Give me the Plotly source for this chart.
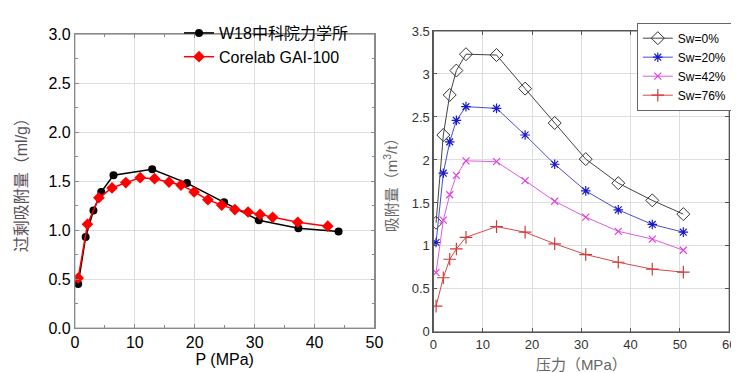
import plotly.graph_objects as go

# ---- Left chart data ----
p_w18 = [0.55, 1.8, 3.1, 4.4, 6.45, 12.9, 18.7, 24.9, 30.7, 37.3, 44.0]
ads_w18 = [0.45, 0.93, 1.20, 1.39, 1.56, 1.62, 1.48, 1.285, 1.10, 1.02, 0.985]
p_core = [0.55, 2.1, 4.0, 6.2, 8.5, 10.9, 13.3, 15.7, 17.7, 19.9, 22.2, 24.5, 26.7, 28.9, 30.9, 33.0, 37.2, 42.2]
ads_core = [0.51, 1.06, 1.33, 1.43, 1.485, 1.535, 1.525, 1.49, 1.46, 1.39, 1.31, 1.255, 1.21, 1.185, 1.16, 1.13, 1.08, 1.04]

# ---- Right chart data ----
p_sw = [0.53, 2.0, 3.3, 4.65, 6.6, 12.8, 18.6, 24.6, 30.9, 37.5, 44.4, 50.7]
sw0 = [1.27, 2.29, 2.756, 3.04, 3.23, 3.22, 2.83, 2.43, 2.01, 1.73, 1.53, 1.37]
sw20 = [1.04, 1.846, 2.21, 2.46, 2.62, 2.60, 2.29, 1.95, 1.64, 1.42, 1.25, 1.16]
sw42 = [0.69, 1.30, 1.595, 1.82, 1.99, 1.98, 1.76, 1.52, 1.335, 1.17, 1.08, 0.95]
sw76 = [0.30, 0.63, 0.845, 0.965, 1.10, 1.225, 1.16, 1.025, 0.90, 0.81, 0.73, 0.695]

sans = "Liberation Sans, Arial, sans-serif"
cjk = "Liberation Sans, Noto Sans CJK SC, sans-serif"

fig = go.Figure()

fig.add_trace(go.Scatter(x=p_w18, y=ads_w18, mode="lines+markers", name="W18中科院力学所",
                         line=dict(color="black", width=1.5),
                         marker=dict(symbol="circle", size=8, color="black"),
                         xaxis="x", yaxis="y", legend="legend"))
fig.add_trace(go.Scatter(x=p_core, y=ads_core, mode="lines+markers", name="Corelab GAI-100",
                         line=dict(color="#ff0000", width=1.5),
                         marker=dict(symbol="diamond", size=9, color="#ff0000"),
                         xaxis="x", yaxis="y", legend="legend"))

fig.add_trace(go.Scatter(x=p_sw, y=sw0, mode="lines+markers", name="Sw=0%",
                         line=dict(color="#444444", width=1),
                         marker=dict(symbol="diamond-open", size=10, color="#333333", line=dict(width=1)),
                         xaxis="x2", yaxis="y2", legend="legend2"))
fig.add_trace(go.Scatter(x=p_sw, y=sw20, mode="lines+markers", name="Sw=20%",
                         line=dict(color="#4b4bd6", width=1),
                         marker=dict(symbol="asterisk-open", size=8, color="#1a1acc", line=dict(width=1.2, color="#1a1acc")),
                         xaxis="x2", yaxis="y2", legend="legend2"))
fig.add_trace(go.Scatter(x=p_sw, y=sw42, mode="lines+markers", name="Sw=42%",
                         line=dict(color="#e05ce0", width=1),
                         marker=dict(symbol="x-thin-open", size=7, color="#e040e0", line=dict(width=1.2, color="#e040e0")),
                         xaxis="x2", yaxis="y2", legend="legend2"))
fig.add_trace(go.Scatter(x=p_sw, y=sw76, mode="lines+markers", name="Sw=76%",
                         line=dict(color="#d24a4a", width=1),
                         marker=dict(symbol="cross-thin-open", size=9, color="#d03a3a", line=dict(width=1.2, color="#d03a3a")),
                         xaxis="x2", yaxis="y2", legend="legend2"))

grid = "#dedede"
frame = "#8a8a8a"
frame2 = "#555555"

fig.update_layout(
    width=739, height=373,
    margin=dict(l=0, r=0, t=0, b=0),
    paper_bgcolor="white", plot_bgcolor="white",
    xaxis=dict(domain=[64/739, 369/739], range=[0, 50], dtick=10, tickformat="d",
               showgrid=True, gridcolor=grid, zeroline=False,
               showline=True, linecolor=frame, linewidth=1, mirror="allticks", ticks="inside", ticklen=4, tickcolor=frame,
               minor=dict(dtick=5, ticks="inside", ticklen=3, tickcolor=frame, showgrid=False),
               tickfont=dict(family=sans, size=16, color="black"),
               title=dict(text="P (MPa)", font=dict(family=sans, size=16, color="black"), standoff=0),
               anchor="y"),
    yaxis=dict(domain=[1-327/373, 1-19/373], range=[0, 3], dtick=0.5, tickformat=".1f",
               showgrid=True, gridcolor=grid, zeroline=False,
               showline=True, linecolor=frame, linewidth=1, mirror="allticks", ticks="inside", ticklen=4, tickcolor=frame,
               minor=dict(dtick=0.25, ticks="inside", ticklen=3, tickcolor=frame, showgrid=False),
               tickfont=dict(family=sans, size=16, color="black"),
               title=dict(text="过剩吸附量（ml/g）", font=dict(family=cjk, size=16, color="#5a4f5a"), standoff=16),
               anchor="x"),
    xaxis2=dict(domain=[429/739, 730/739], range=[0, 60], dtick=10,
                showgrid=True, gridcolor=grid, zeroline=False,
                showline=True, linecolor=frame2, linewidth=1, mirror="allticks", ticks="inside", ticklen=4, tickcolor=frame2,
                tickfont=dict(family=sans, size=13, color="#333333"),
                title=dict(text="压力（MPa）", font=dict(family=cjk, size=15, color="#666666"), standoff=8),
                anchor="y2"),
    yaxis2=dict(domain=[1-331/373, 1-15.7/373], range=[0, 3.5], dtick=0.5,
                showgrid=True, gridcolor=grid, zeroline=False,
                showline=True, linecolor=frame2, linewidth=1, mirror="allticks", ticks="inside", ticklen=4, tickcolor=frame2,
                tickfont=dict(family=sans, size=13, color="#333333"),
                title=dict(text="吸附量（m<sup>3</sup>/t）", font=dict(family=cjk, size=15, color="#666666"), standoff=10),
                anchor="x2"),
    legend=dict(x=170/739, y=1.0, xanchor="left", yanchor="top",
                bgcolor="rgba(0,0,0,0)", borderwidth=0,
                font=dict(family=cjk, size=16, color="black"), tracegroupgap=0,
                itemwidth=30),
    legend2=dict(x=636/739, y=1-7/373, xanchor="left", yanchor="top",
                 bgcolor="white", bordercolor="#666666", borderwidth=1,
                 font=dict(family=sans, size=12, color="black"), tracegroupgap=0,
                 itemwidth=30),
    shapes=[
        dict(type="rect", xref="x domain", yref="y domain", x0=0, x1=1, y0=0, y1=1,
             line=dict(color=frame, width=1), fillcolor="rgba(0,0,0,0)", layer="above"),
        dict(type="rect", xref="x2 domain", yref="y2 domain", x0=0, x1=1, y0=0, y1=1,
             line=dict(color=frame2, width=1), fillcolor="rgba(0,0,0,0)", layer="above"),
    ],
)

fig.write_html("out.html")
